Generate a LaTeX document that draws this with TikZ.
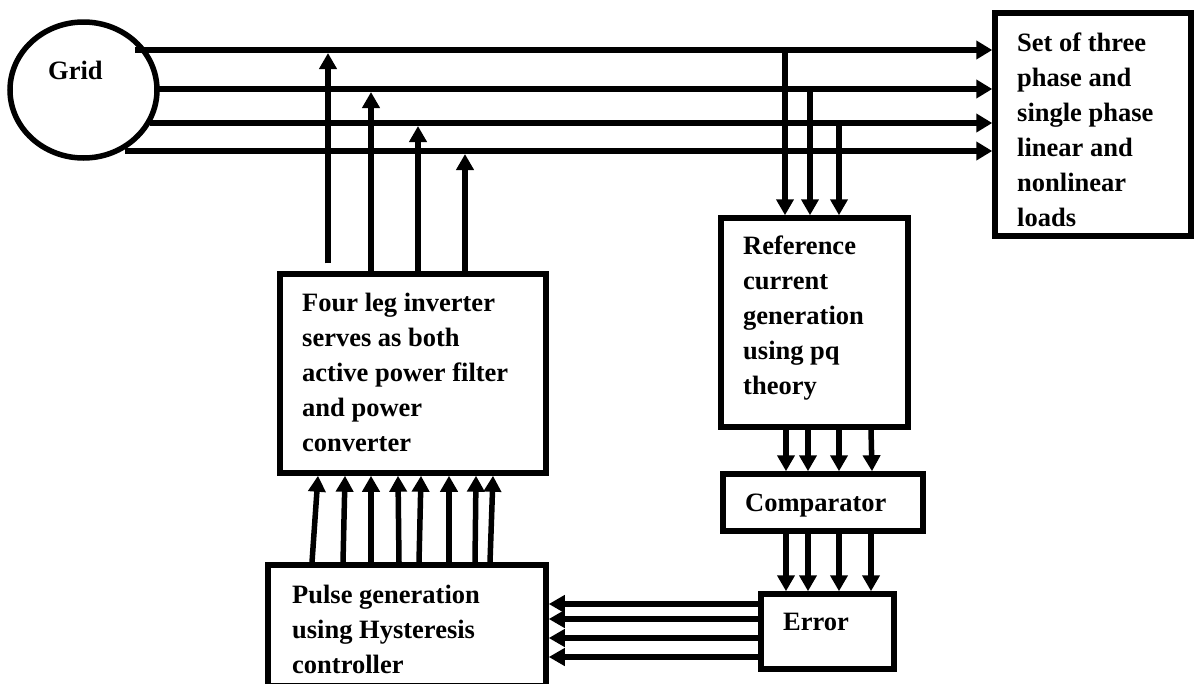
\documentclass[tikz,border=0pt]{standalone}
\usepackage{fontspec}
\setmainfont{Liberation Serif}
\usetikzlibrary{arrows.meta,shapes.geometric}
\begin{document}
\begin{tikzpicture}[x=1pt,y=-1pt,
  box/.style={draw, line width=5.5pt, rectangle, inner sep=0pt},
  lbl/.style={anchor=north west, inner sep=0pt, align=left,
     font=\fontsize{26.5}{35}\selectfont\bfseries},
  arr/.style={-{Triangle[length=16pt,width=17pt]}, line width=5.5pt},
  warr/.style={-{Triangle[length=16pt,width=18pt]}, line width=6.5pt}]
\useasboundingbox (0,0) rectangle (1196,683);
% blocks
\node[ellipse, draw, line width=5.5pt, minimum width=147pt, minimum height=136pt, inner sep=0pt] (grid) at (83.5,90) {};
\node[box, minimum width=196pt, minimum height=223pt] (load) at (1093,124.5) {};
\node[box, minimum width=187pt, minimum height=209pt] (ref) at (814.5,322.5) {};
\node[box, minimum width=266pt, minimum height=199pt] (inv) at (413,373.5) {};
\node[box, minimum width=278pt, minimum height=121pt] (pulse) at (407,625.5) {};
\node[box, minimum width=200pt, minimum height=57pt] (comp) at (823,502.5) {};
\node[box, minimum width=133pt, minimum height=75pt] (err) at (827.5,631.5) {};
% texts
\node[lbl] (tgrid) at (48,61) {Grid};
\node[lbl] (tload) at (1017,33) {Set of three\\phase and\\single phase\\linear and\\nonlinear\\loads};
\node[lbl] (tref) at (743,236) {Reference\\current\\generation\\using pq\\theory};
\node[lbl] (tinv) at (302,293) {Four leg inverter\\serves as both\\active power filter\\and power\\converter};
\node[lbl] (tpulse) at (292,585) {Pulse generation\\using Hysteresis\\controller};
\node[lbl] (tcomp) at (745,494) {Comparator};
\node[lbl] (terr) at (783,613) {Error};
% grid lines
\coordinate (g1) at (135,50);
\coordinate (g2) at (156,89);
\coordinate (g3) at (150,123);
\coordinate (g4) at (125,151);
\foreach \i in {1,...,4} {
  \draw[warr] (g\i) -- (load.west |- g\i);
}
% taps to reference block
\coordinate (t1) at (785,50);
\coordinate (t2) at (810,89);
\coordinate (t3) at (839,123);
\foreach \i in {1,2,3} {
  \draw[arr] (t\i) -- (t\i |- ref.north);
}
% inverter injections
\coordinate (u1) at (328,53);
\coordinate (u2) at (371,92);
\coordinate (u3) at (418,126);
\coordinate (u4) at (465,154);
\draw[arr] ([yshift=8pt]u1 |- inv.north) -- (u1);
\draw[arr] (u2 |- inv.north) -- (u2);
\draw[arr] (u3 |- inv.north) -- (u3);
\draw[arr] (u4 |- inv.north) -- (u4);
% pulses to inverter
\foreach \xb/\xt in {312/318, 343/345, 371/371, 399/398, 419/421, 449/449, 475/476, 490/493} {
  \draw[arr] (pulse.north -| \xb,0) -- (inv.south -| \xt,0);
}
% reference to comparator
\foreach \xa/\xb in {786/786, 808/808, 839/839, 871/872} {
  \draw[arr] (ref.south -| \xa,0) -- (comp.north -| \xb,0);
}
% comparator to error
\foreach \xa in {786, 808, 839, 871} {
  \draw[arr] (comp.south -| \xa,0) -- (err.north -| \xa,0);
}
% error to pulse generation
\foreach \y in {604, 619, 638, 657} {
  \draw[arr] (err.west |- 0,\y) -- (pulse.east |- 0,\y);
}
\end{tikzpicture}
\end{document}
